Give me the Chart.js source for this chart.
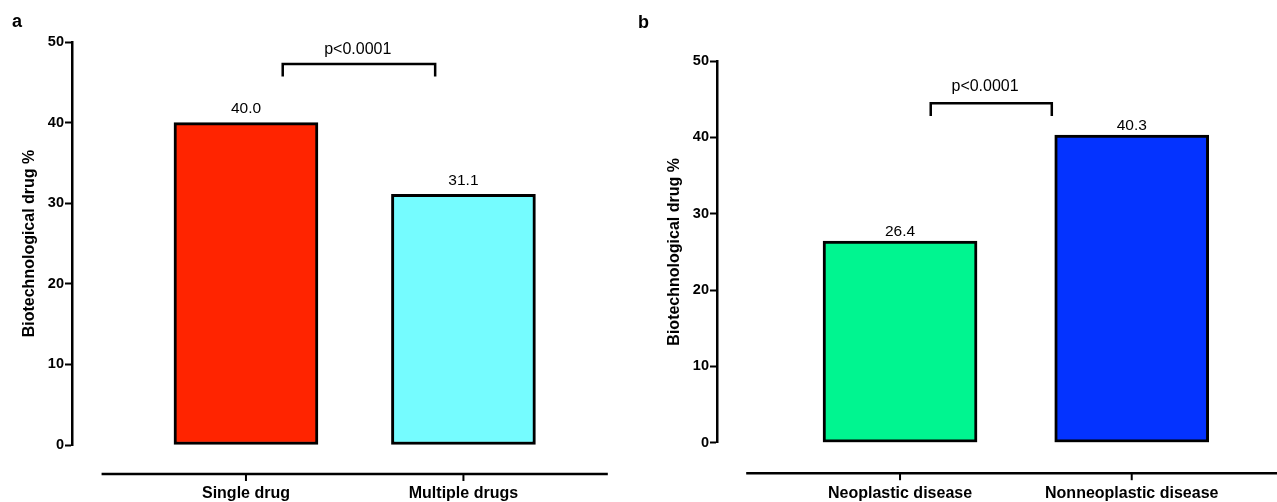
<!DOCTYPE html>
<html>
<head>
<meta charset="utf-8">
<script src="https://cdn.jsdelivr.net/npm/chart.js@4.4.1/dist/chart.umd.min.js"></script>
<style>
  html, body { margin: 0; padding: 0; background: #fff; }
  body { width: 1277px; height: 502px; position: relative; overflow: hidden; }
  .panel { position: absolute; top: 0; height: 502px; }
  #panelA { left: 0; width: 620px; }
  #panelB { left: 630px; width: 647px; }
</style>
</head>
<body>
<div class="panel" id="panelA"><canvas id="chartA"></canvas></div>
<div class="panel" id="panelB"><canvas id="chartB"></canvas></div>
<script>
// panel a
const categoriesA = ['Single drug', 'Multiple drugs'];
const valuesA = [40.0, 31.1];
const colorsA = ['#ff2400', '#75fcff'];

// panel b
const categoriesB = ['Neoplastic disease', 'Nonneoplastic disease'];
const valuesB = [26.4, 40.3];
const colorsB = ['#00f590', '#0433ff'];

const yTicks = [0, 10, 20, 30, 40, 50];
const yTitle = 'Biotechnological drug %';
const pLabel = 'p<0.0001';

const FONT = '"Liberation Sans", Arial, Helvetica, sans-serif';

// detached x axis, value labels, significance bracket, panel letter
const figureExtras = {
  id: 'figureExtras',
  afterDatasetsDraw(chart, args, opts) {
    const { ctx, chartArea } = chart;
    const x = chart.scales.x;
    const y = chart.scales.y;
    ctx.save();
    ctx.strokeStyle = '#000';
    ctx.fillStyle = '#000';

    const ay = chartArea.bottom + opts.axisGap;
    ctx.lineWidth = 2.5;
    ctx.beginPath();
    ctx.moveTo(x.getPixelForValue(opts.axisFrom), ay);
    ctx.lineTo(x.getPixelForValue(opts.axisTo), ay);
    ctx.stroke();
    ctx.lineWidth = 2;
    opts.categories.forEach((c, i) => {
      const px = x.getPixelForValue(i);
      ctx.beginPath();
      ctx.moveTo(px, ay);
      ctx.lineTo(px, ay + 7);
      ctx.stroke();
    });

    ctx.font = '15.5px ' + FONT;
    ctx.textAlign = 'center';
    ctx.textBaseline = 'middle';
    chart.getDatasetMeta(0).data.forEach((bar, i) => {
      ctx.fillText(opts.values[i].toFixed(1), bar.x, bar.y - opts.labelGap);
    });

    const b = opts.bracket;
    const x1 = x.getPixelForValue(b.from);
    const x2 = x.getPixelForValue(b.to);
    const yTop = y.getPixelForValue(b.top);
    const yEnd = y.getPixelForValue(b.end);
    ctx.lineWidth = 2.5;
    ctx.beginPath();
    ctx.moveTo(x1, yEnd);
    ctx.lineTo(x1, yTop);
    ctx.lineTo(x2, yTop);
    ctx.lineTo(x2, yEnd);
    ctx.stroke();
    ctx.font = '16px ' + FONT;
    ctx.fillText(pLabel, x.getPixelForValue(b.textX), y.getPixelForValue(b.textY));

    ctx.font = 'bold 18px ' + FONT;
    ctx.textAlign = 'left';
    ctx.fillText(opts.letter, opts.letterX, opts.letterY);
    ctx.restore();
  }
};

function makeChart(id, categories, values, colors, o) {
  return new Chart(document.getElementById(id), {
    type: 'bar',
    data: {
      datasets: [{
        data: values.map((v, i) => ({ x: i, y: v })),
        backgroundColor: colors,
        borderColor: '#000',
        borderWidth: 3,
        borderSkipped: false,
        barThickness: o.barWidth
      }]
    },
    options: {
      responsive: true,
      maintainAspectRatio: false,
      animation: false,
      layout: { padding: { top: o.top, right: 0, bottom: 0, left: 0 } },
      plugins: {
        legend: { display: false },
        tooltip: { enabled: false },
        figureExtras: {
          categories, values,
          axisGap: o.axisGap, axisFrom: -0.664, axisTo: 1.664,
          labelGap: o.labelGap,
          bracket: o.bracket,
          letter: o.letter, letterX: o.letterX, letterY: o.letterY
        }
      },
      scales: {
        x: {
          type: 'linear',
          offset: false,
          min: o.xMin,
          max: o.xMax,
          grid: { display: false, drawTicks: false, offset: false },
          border: { display: false },
          afterBuildTicks: s => { s.ticks = categories.map((c, i) => ({ value: i })); },
          afterFit: s => { s.height = o.xHeight; },
          ticks: {
            autoSkip: false,
            maxRotation: 0,
            padding: o.labelPad,
            color: '#000',
            font: { family: FONT, size: 16, weight: 'bold' },
            callback: v => categories[Math.round(v)]
          }
        },
        y: {
          min: 0,
          max: 50,
          afterFit: s => { s.width = o.yWidth; },
          afterBuildTicks: s => { s.ticks = yTicks.map(v => ({ value: v })); },
          border: { display: true, color: '#000', width: 2.5 },
          grid: { display: true, drawOnChartArea: false, drawTicks: true, tickLength: 7, tickWidth: 2, tickColor: '#000' },
          ticks: { padding: 1, color: '#000', font: { family: FONT, size: 14.5, weight: 'bold' } },
          title: {
            display: true,
            text: yTitle,
            color: '#000',
            font: { family: FONT, size: 16, weight: 'bold' },
            padding: { top: o.titlePad, bottom: 0 }
          }
        }
      }
    },
    plugins: [figureExtras]
  });
}

makeChart('chartA', categoriesA, valuesA, colorsA, {
  top: 42, xHeight: 57, yWidth: 72, xMin: -0.8, xMax: 1.72,
  barWidth: 144, labelPad: 39, titlePad: 20.4,
  axisGap: 29, labelGap: 14,
  bracket: { from: 0.169, to: 0.87, top: 47.27, end: 45.73, textX: 0.514, textY: 49.04 },
  letter: 'a', letterX: 12, letterY: 22
});

makeChart('chartB', categoriesB, valuesB, colorsB, {
  top: 61, xHeight: 59.3, yWidth: 87, xMin: -0.79, xMax: 1.627,
  barWidth: 154, labelPad: 41, titlePad: 35.4,
  axisGap: 30.5, labelGap: 9.5,
  bracket: { from: 0.1325, to: 0.655, top: 44.46, end: 42.8, textX: 0.367, textY: 46.63 },
  letter: 'b', letterX: 8, letterY: 23
});
</script>
</body>
</html>
